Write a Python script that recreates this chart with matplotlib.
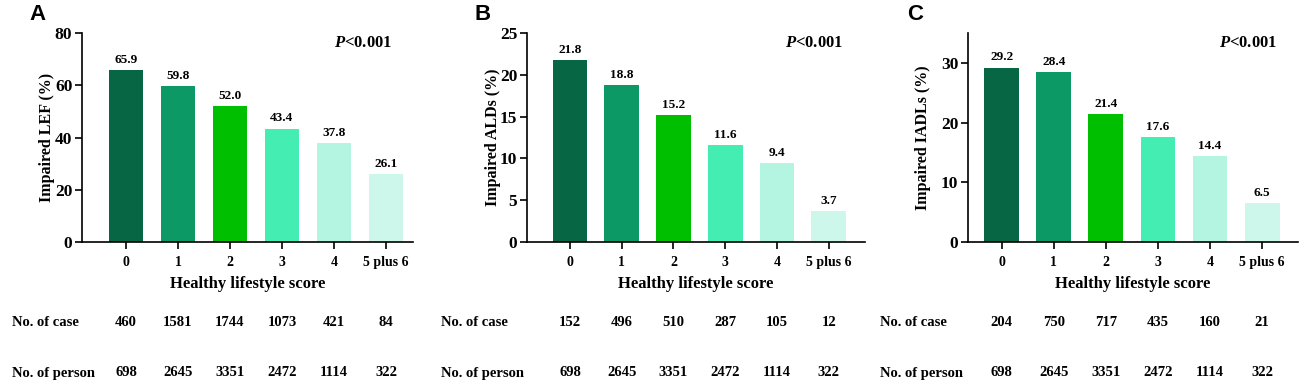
import matplotlib.pyplot as plt
from matplotlib import transforms

plt.rcParams['font.family'] = 'Liberation Serif'
plt.rcParams['font.weight'] = 'bold'
plt.rcParams['mathtext.fontset'] = 'custom'
plt.rcParams['mathtext.it'] = 'Liberation Serif:bold:italic'
plt.rcParams['mathtext.rm'] = 'Liberation Serif:bold'

scores = ['0', '1', '2', '3', '4', '5 plus 6']
bar_colors = ['#076644', '#0D9966', '#00BF00', '#44EEB2', '#B4F5E2', '#CCF7EA']

lef_pct = [65.9, 59.8, 52.0, 43.4, 37.8, 26.1]
lef_case = [460, 1581, 1744, 1073, 421, 84]
alds_pct = [21.8, 18.8, 15.2, 11.6, 9.4, 3.7]
alds_case = [152, 496, 510, 287, 105, 12]
iadls_pct = [29.2, 28.4, 21.4, 17.6, 14.4, 6.5]
iadls_case = [204, 750, 717, 435, 160, 21]
persons = [698, 2645, 3351, 2472, 1114, 322]

W, H = 1300, 384
fig = plt.figure(figsize=(W / 100, H / 100), dpi=100)

panels = [
    # letter, ylabel, pct, case, ylim, yticks, axes px (left, right), xlim, letter x, row label x, ylabel x
    ('A', 'Impaired LEF (%)', lef_pct, lef_case, 80, [0, 20, 40, 60, 80], (82, 413), (-0.846, 5.52), 38, 12, 47),
    ('B', 'Impaired ALDs (%)', alds_pct, alds_case, 25, [0, 5, 10, 15, 20, 25], (527, 865), (-0.83, 5.7), 483, 441, 493),
    ('C', 'Impaired IADLs (%)', iadls_pct, iadls_case, 35, [0, 10, 20, 30], (968, 1298), (-0.65, 5.69), 915, 880, 923),
]

top, bottom = 33, 242
for letter, ylab, pct, case, ymax, yt, (l, r), xl, lx, rx, ylx in panels:
    ax = fig.add_axes([l / W, (H - bottom) / H, (r - l) / W, (bottom - top) / H])
    x = range(len(scores))
    ax.bar(x, pct, width=0.67, color=bar_colors)
    for xi, v in zip(x, pct):
        ax.annotate(f'{v:.1f}', (xi, v), xytext=(0, 3), textcoords='offset points',
                     ha='center', va='bottom', fontsize=9.5, fontweight='bold')
    ax.set_xlim(*xl)
    ax.set_ylim(0, ymax)
    ax.set_yticks(yt)
    ax.set_xticks(list(x))
    ax.set_xticklabels(scores)
    ax.spines['top'].set_visible(False)
    ax.spines['right'].set_visible(False)
    for s in ['left', 'bottom']:
        ax.spines[s].set_linewidth(1.2)
    ax.tick_params(width=1.2, length=5, labelsize=10, pad=5)
    ax.tick_params(axis='y', labelsize=12.5, pad=2)
    ax.set_xlabel('Healthy lifestyle score', fontsize=12, fontweight='bold', va='center')
    ax.xaxis.set_label_coords(0.5, (bottom - 284) / (bottom - top))
    ax.set_ylabel(ylab, fontsize=11.5, fontweight='bold', va='center')
    ax.yaxis.set_label_coords((ylx - l) / (r - l), 0.5)
    ax.text(0.85, 0.95, r'$P$<0.001', transform=ax.transAxes, ha='center', va='center',
            fontsize=12, fontweight='bold')

    fig.text(lx / W, 1 - 15 / H, letter, family='Liberation Sans', fontsize=16,
             fontweight='bold', ha='center', va='center')

    # table rows under each panel
    trans = transforms.blended_transform_factory(ax.transData, fig.transFigure)
    fig.text(rx / W, 1 - 322 / H, 'No. of case', fontsize=10.5, fontweight='bold', va='center')
    fig.text(rx / W, 1 - 373 / H, 'No. of person', fontsize=10.5, fontweight='bold', va='center')
    for xi, c, p in zip(x, case, persons):
        ax.text(xi, 1 - 322 / H, str(c), transform=trans, ha='center', va='center',
                fontsize=10.5, fontweight='bold')
        ax.text(xi, 1 - 373 / H, str(p), transform=trans, ha='center', va='center',
                fontsize=10.5, fontweight='bold')

fig.savefig('out.png', dpi=100)
